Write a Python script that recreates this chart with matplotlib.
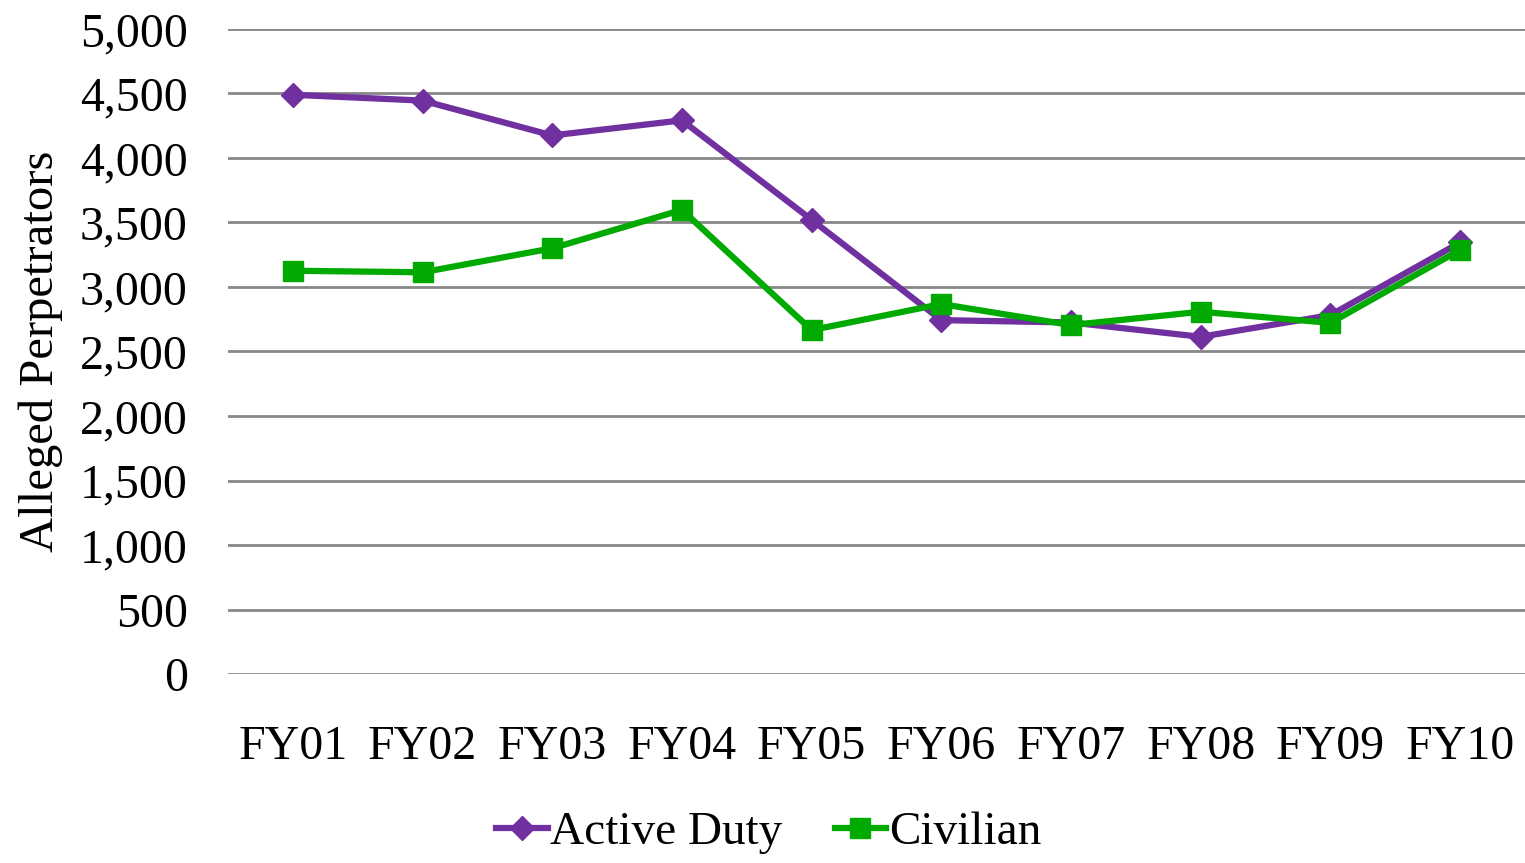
import matplotlib.pyplot as plt
from matplotlib.ticker import FuncFormatter

years = ['FY01', 'FY02', 'FY03', 'FY04', 'FY05', 'FY06', 'FY07', 'FY08', 'FY09', 'FY10']
active_duty = [4490, 4445, 4175, 4292, 3521, 2743, 2725, 2614, 2782, 3345]
civilian = [3126, 3114, 3300, 3598, 2666, 2868, 2705, 2808, 2722, 3288]

plt.rcParams['font.family'] = ['Liberation Serif', 'DejaVu Serif']

fig = plt.figure(figsize=(15.25, 8.63), dpi=100)
ax = fig.add_axes([0.1495, 0.219, 0.8505, 0.7474])

x = range(len(years))
ax.plot(x, active_duty, color='#7030A0', linewidth=4.5, marker='D', markersize=12,
        label='Active Duty')
ax.plot(x, civilian, color='#00AA00', linewidth=4.5, marker='s', markersize=15,
        label='Civilian')

ax.set_xlim(-0.5, len(years) - 0.5)
ax.set_ylim(0, 5000)
ax.set_yticks(range(0, 5001, 500))
ax.yaxis.set_major_formatter(FuncFormatter(lambda v, p: f'{int(v):,}'))
ax.set_xticks(list(x))
ax.set_xticklabels(years)
ax.grid(axis='y', color='#878787', linewidth=2)
ax.set_axisbelow(True)
for s in ax.spines.values():
    s.set_visible(False)
ax.tick_params(axis='y', length=0, pad=29, labelsize=34.5)
ax.tick_params(axis='x', length=0, pad=37, labelsize=34.5)
ax.set_ylabel('Alleged Perpetrators', fontsize=35)
ax.yaxis.set_label_coords(-0.127, 0.5)

fig.legend(loc='center', bbox_to_anchor=(0.504, 0.035), ncol=2, frameon=False,
           fontsize=34, handlelength=1.1, handletextpad=0.05, columnspacing=1.1)

fig.savefig('out.png', dpi=100)
